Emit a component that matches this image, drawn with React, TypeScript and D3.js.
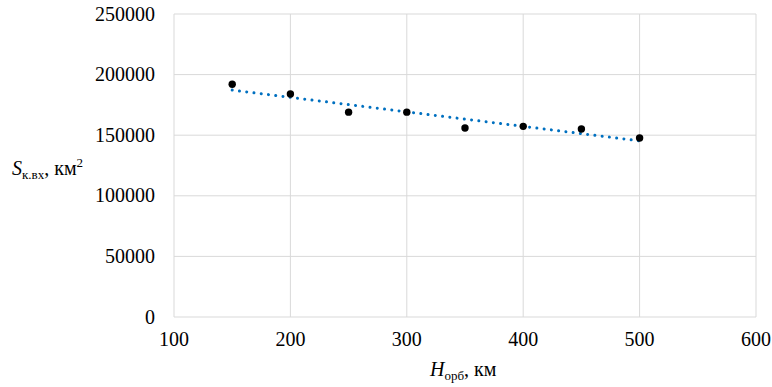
import React, { useRef, useEffect } from "react";
import * as d3 from "d3";

// orbit altitude, km
const ALTITUDES = [150, 200, 250, 300, 350, 400, 450, 500];
// coverage area at entry, km²
const AREAS = [192000, 184000, 169000, 169000, 156000, 157300, 155100, 147700];

const X_TICKS = [100, 200, 300, 400, 500, 600];
const Y_TICKS = [0, 50000, 100000, 150000, 200000, 250000];

// least squares line through the points (Excel linear trendline)
function linearFit(xs: number[], ys: number[]) {
  const mx = d3.mean(xs) as number;
  const my = d3.mean(ys) as number;
  let num = 0;
  let den = 0;
  for (let i = 0; i < xs.length; i++) {
    num += (xs[i] - mx) * (ys[i] - my);
    den += (xs[i] - mx) * (xs[i] - mx);
  }
  const slope = num / den;
  return (x: number) => my + slope * (x - mx);
}

export default function App() {
  const svgRef = useRef<SVGSVGElement>(null);

  useEffect(() => {
    const width = 772;
    const height = 387;
    const margin = { top: 14, right: 16, bottom: 70, left: 174 };
    const font = "'Liberation Serif', 'DejaVu Serif', serif";

    const svg = d3.select(svgRef.current).attr("width", width).attr("height", height);
    svg.selectAll("*").remove();

    const x = d3.scaleLinear().domain([100, 600]).range([margin.left, width - margin.right]);
    const y = d3.scaleLinear().domain([0, 250000]).range([height - margin.bottom, margin.top]);

    // grid
    svg
      .append("g")
      .selectAll("line")
      .data(Y_TICKS)
      .enter()
      .append("line")
      .attr("x1", x(100))
      .attr("x2", x(600))
      .attr("y1", (d) => y(d))
      .attr("y2", (d) => y(d))
      .attr("stroke", "#d9d9d9")
      .attr("stroke-width", 1);

    svg
      .append("g")
      .selectAll("line")
      .data(X_TICKS)
      .enter()
      .append("line")
      .attr("x1", (d) => x(d))
      .attr("x2", (d) => x(d))
      .attr("y1", y(0))
      .attr("y2", y(250000))
      .attr("stroke", "#d9d9d9")
      .attr("stroke-width", 1);

    // tick labels
    svg
      .append("g")
      .selectAll("text")
      .data(Y_TICKS)
      .enter()
      .append("text")
      .attr("x", margin.left - 19)
      .attr("y", (d) => y(d) + 6.5)
      .attr("text-anchor", "end")
      .style("font-family", font)
      .style("font-size", "20px")
      .attr("fill", "#000")
      .text((d) => String(d));

    svg
      .append("g")
      .selectAll("text")
      .data(X_TICKS)
      .enter()
      .append("text")
      .attr("x", (d) => x(d))
      .attr("y", y(0) + 29)
      .attr("text-anchor", "middle")
      .style("font-family", font)
      .style("font-size", "20px")
      .attr("fill", "#000")
      .text((d) => String(d));

    // trendline
    const fit = linearFit(ALTITUDES, AREAS);
    const x0 = d3.min(ALTITUDES) as number;
    const x1 = d3.max(ALTITUDES) as number;
    svg
      .append("line")
      .attr("x1", x(x0))
      .attr("y1", y(fit(x0)))
      .attr("x2", x(x1))
      .attr("y2", y(fit(x1)))
      .attr("stroke", "#0070c0")
      .attr("stroke-width", 3)
      .attr("stroke-linecap", "round")
      .attr("stroke-dasharray", "0.01 7.3");

    // points
    svg
      .append("g")
      .selectAll("circle")
      .data(ALTITUDES)
      .enter()
      .append("circle")
      .attr("cx", (d) => x(d))
      .attr("cy", (d, i) => y(AREAS[i]))
      .attr("r", 3.7)
      .attr("fill", "#000");

    // y axis label: S к.вх, км²
    const yl = svg
      .append("text")
      .attr("x", 12)
      .attr("y", 175)
      .style("font-family", font)
      .style("font-size", "20px")
      .attr("fill", "#000");
    yl.append("tspan").style("font-style", "italic").text("S");
    yl.append("tspan").attr("dy", 4).style("font-size", "13px").text("к.вх");
    yl.append("tspan").attr("dy", -4).text(", км");
    yl.append("tspan").attr("dy", -8).style("font-size", "13px").text("2");

    // x axis label: H орб, км
    const xl = svg
      .append("text")
      .attr("x", 430)
      .attr("y", 376)
      .style("font-family", font)
      .style("font-size", "20px")
      .attr("fill", "#000");
    xl.append("tspan").style("font-style", "italic").text("H");
    xl.append("tspan").attr("dy", 4).style("font-size", "13px").text("орб");
    xl.append("tspan").attr("dy", -4).text(", км");
  }, []);

  return <svg ref={svgRef} style={{ position: "absolute", left: 0, top: 0 }}></svg>;
}
